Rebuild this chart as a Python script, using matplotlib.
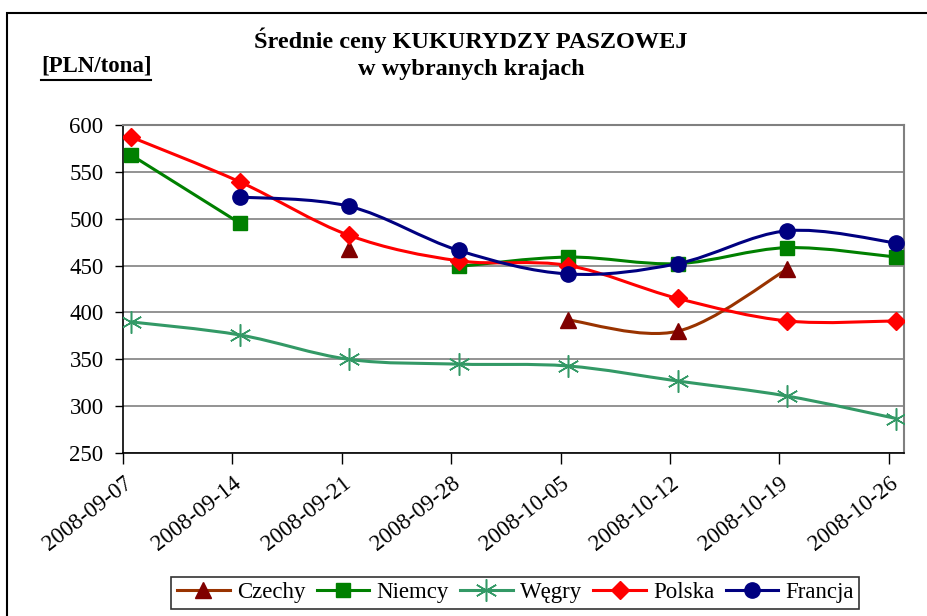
import matplotlib
matplotlib.use('Agg')
import matplotlib.pyplot as plt
import numpy as np
from matplotlib.path import Path
from matplotlib.patches import PathPatch, Rectangle
from matplotlib.lines import Line2D

plt.rcParams['font.family'] = ['Liberation Serif', 'DejaVu Serif']

dates = ['2008-09-07', '2008-09-14', '2008-09-21', '2008-09-28',
         '2008-10-05', '2008-10-12', '2008-10-19', '2008-10-26']

nan = np.nan
czechy = [nan, nan, 468, nan, 392, 380, 446, nan]
niemcy = [568, 495, nan, 449, 459, 452, 469, 459]
wegry = [390, 376, 350, 345, 343, 327, 311, 287]
polska = [587, 539, 482, 455, 450, 415, 391, 391]
francja = [nan, 523, 513, 466, 441, 452, 487, 474]

series = [
    ('Czechy', czechy, '#993300', '#800000', '^', 11),
    ('Niemcy', niemcy, '#008000', '#008000', 's', 10.5),
    ('Węgry', wegry, '#339966', '#339966', (6, 2, 0), 16),
    ('Polska', polska, '#FF0000', '#FF0000', 'D', 9),
    ('Francja', francja, '#000080', '#000080', 'o', 11),
]

shift = 0.07  # points sit a little right of the category ticks


def smooth_path(x, y):
    # Excel-like smoothed line: cubic bezier with 1/6 tangents
    verts = [(x[0], y[0])]
    codes = [Path.MOVETO]
    n = len(x)
    for i in range(n - 1):
        p0 = np.array([x[max(i - 1, 0)], y[max(i - 1, 0)]])
        p1 = np.array([x[i], y[i]])
        p2 = np.array([x[i + 1], y[i + 1]])
        p3 = np.array([x[min(i + 2, n - 1)], y[min(i + 2, n - 1)]])
        c1 = p1 + (p2 - p0) / 6
        c2 = p2 - (p3 - p1) / 6
        verts += [tuple(c1), tuple(c2), tuple(p2)]
        codes += [Path.CURVE4] * 3
    return Path(verts, codes)


fig = plt.figure(figsize=(9.27, 6.16), dpi=100)
ax = fig.add_axes([0.1327, 0.2641, 0.8425, 0.5335])

xs = np.arange(len(dates)) + shift
handles = []
for name, vals, lc, mc, mk, ms in series:
    vals = np.array(vals, dtype=float)
    # split into runs without gaps
    seg_x, seg_y = [], []
    for xi, vi in zip(list(xs) + [None], list(vals) + [nan]):
        if xi is not None and not np.isnan(vi):
            seg_x.append(xi)
            seg_y.append(vi)
        else:
            if len(seg_x) > 1:
                ax.add_patch(PathPatch(smooth_path(seg_x, seg_y), facecolor='none',
                                       edgecolor=lc, lw=2.2, zorder=3,
                                       capstyle='round', joinstyle='round'))
            seg_x, seg_y = [], []
    star = isinstance(mk, tuple)
    ax.plot(xs, vals, linestyle='none', marker=mk, markersize=ms,
            markeredgecolor=mc, markerfacecolor='none' if star else mc,
            markeredgewidth=1.1 if star else 1.0, zorder=4)
    handles.append(Line2D([0], [0], color=lc, lw=2.2, marker=mk, markersize=ms,
                          markerfacecolor='none' if star else mc,
                          markeredgecolor=mc, markeredgewidth=1.1 if star else 1.0,
                          label=name))

ax.set_xlim(0, 7.14)
ax.set_ylim(250, 600)
ax.set_yticks(np.arange(250, 601, 50))
ax.set_xticks(np.arange(len(dates)))
ax.set_xticklabels(dates, rotation=38, ha='right', va='top', rotation_mode='anchor')
ax.tick_params(axis='x', length=8, width=1, labelsize=16.5, pad=6)
ax.tick_params(axis='y', length=6, width=1, labelsize=16.5, pad=8)
ax.yaxis.grid(True, color='#808080', lw=1.2)
ax.set_axisbelow(True)
for side in ['top', 'right']:
    ax.spines[side].set_color('#808080')
    ax.spines[side].set_linewidth(1.5)
for side in ['left', 'bottom']:
    ax.spines[side].set_color('black')
    ax.spines[side].set_linewidth(1.2)

fig.text(0.508, 0.935, 'Średnie ceny KUKURYDZY PASZOWEJ', ha='center', va='center',
         fontsize=17.5, fontweight='bold')
fig.text(0.508, 0.887, 'w wybranych krajach', ha='center', va='center',
         fontsize=17.5, fontweight='bold')
fig.text(0.0442, 0.893, '[PLN/tona]', ha='left', va='center',
         fontsize=16.5, fontweight='bold')
fig.add_artist(Line2D([0.0442, 0.163], [0.870, 0.870], color='black', lw=1.5,
                      transform=fig.transFigure))

# outer chart border
fig.add_artist(Rectangle((0.0075, -0.05), 1.2, 1.029, transform=fig.transFigure,
                         fill=False, edgecolor='black', lw=1.5))

leg = fig.legend(handles=handles, loc='upper center', bbox_to_anchor=(0.556, 0.064),
                 ncol=5, fontsize=16.5, frameon=True, fancybox=False, edgecolor='black',
                 handlelength=2.3, handletextpad=0.3, columnspacing=0.5,
                 borderpad=0.25, borderaxespad=0)
leg.get_frame().set_linewidth(1.2)

fig.savefig('out.png', dpi=100)
